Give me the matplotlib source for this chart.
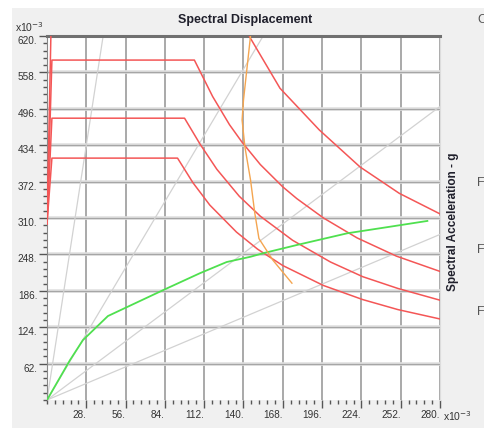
import matplotlib
matplotlib.use("Agg")
import matplotlib.pyplot as plt
from matplotlib.ticker import MultipleLocator, FixedLocator
from matplotlib.patches import Rectangle

plt.rcParams['font.family'] = ['Liberation Sans Narrow', 'Liberation Sans', 'DejaVu Sans']

# data (x10^-3): spectral displacement vs spectral acceleration
# demand spectra (red)
dem1_sd = [0, 3.5, 126, 145, 166, 194, 223, 251, 280]
dem1_sa = [300, 705, 705, 616, 531, 460, 397, 352, 317]
dem2_sd = [0, 3.5, 105, 118, 130, 139, 152, 168, 178, 197, 221, 249, 280]
dem2_sa = [300, 579, 579, 517, 469, 439, 401, 363, 343, 310, 276, 245, 219]
dem3_sd = [0, 3.5, 98, 109, 121, 137, 152, 175, 202, 225, 250, 280]
dem3_sa = [300, 480, 480, 436, 393, 347, 313, 272, 235, 210, 190, 170]
dem4_sd = [0, 3.5, 93, 104, 116, 135, 150, 168, 197, 225, 250, 280]
dem4_sa = [300, 412, 412, 370, 332, 286, 257, 229, 195, 171, 154, 138]

# capacity curve (green)
cap_sd = [0, 16.4, 25.6, 43.4, 82.6, 109, 128, 145, 154, 178, 214, 244, 271]
cap_sa = [0, 68, 102, 143, 187, 216, 235, 244, 250, 264, 284, 295, 305]

# performance points trace (orange)
perf_sd = [145, 140, 139, 141, 145, 148, 151, 161, 174.5]
perf_sa = [620, 511, 477, 431, 375, 319, 275, 238, 199]

# constant period lines (gray), end points
per_sd = [40, 154, 280, 280]
per_sa = [620, 620, 500, 282]

x_ticks = [28, 56, 84, 112, 140, 168, 196, 224, 252, 280]
y_ticks = [62, 124, 186, 248, 310, 372, 434, 496, 558, 620]

fig = plt.figure(figsize=(4.85, 4.30), dpi=100)
fig.patch.set_facecolor('white')
fig.patches.append(Rectangle((12 / 485, 2 / 430), 1, 420 / 430, transform=fig.transFigure,
                             facecolor='#f0f0f0', edgecolor='none', zorder=-10))

ax = fig.add_axes([47 / 485, 30 / 430, 393 / 485, 364 / 430])
ax.set_facecolor('white')

# grid
for xv in x_ticks:
    ax.axvline(xv, color='#929292', lw=1.1, zorder=1)
for yv in y_ticks[:-1]:
    ax.axhline(yv, color='#e0e0e0', lw=2.6, zorder=1)
    ax.axhline(yv, color='#a6a6a6', lw=0.9, zorder=1)

# period lines
for sd, sa in zip(per_sd, per_sa):
    ax.plot([0, sd], [0, sa], color='#d2d2d2', lw=0.9, zorder=2)

for sd, sa in [(dem1_sd, dem1_sa), (dem2_sd, dem2_sa), (dem3_sd, dem3_sa), (dem4_sd, dem4_sa)]:
    ax.plot(sd, sa, color='#f45656', lw=1.1, zorder=3)

ax.plot(cap_sd, cap_sa, color='#4fe04f', lw=1.3, zorder=4)
ax.plot(perf_sd, perf_sa, color='#f4a550', lw=1.0, zorder=4)

ax.set_xlim(0, 280)
ax.set_ylim(0, 620)

ax.xaxis.set_major_locator(FixedLocator(x_ticks))
ax.yaxis.set_major_locator(FixedLocator(y_ticks))
ax.xaxis.set_minor_locator(MultipleLocator(5.6))
ax.yaxis.set_minor_locator(MultipleLocator(12.4))
ax.set_xticklabels([f'{v}.' for v in x_ticks])
ax.set_yticklabels([f'{v}.' for v in y_ticks])
ax.tick_params(axis='both', which='major', direction='out', length=6, width=1,
               color='#555555', labelsize=7.2, labelcolor='#333333', pad=1)
ax.tick_params(axis='both', which='minor', direction='out', length=3, width=1,
               color='#555555')
for lab in ax.get_xticklabels():
    lab.set_horizontalalignment('right')
for lab in ax.get_yticklabels():
    lab.set_verticalalignment('top')

ax.spines['bottom'].set_visible(False)
ax.spines['top'].set_color('#707070')
ax.spines['top'].set_linewidth(2.2)
ax.spines['left'].set_color('#888888')
ax.spines['right'].set_color('#dddddd')

fig.text(245 / 485, 1 - 20 / 430, 'Spectral Displacement', ha='center', va='center',
         fontsize=9, fontweight='bold', color='#20202c')
fig.text(453 / 485, 1 - 222 / 430, 'Spectral Acceleration - g', ha='center', va='center',
         rotation=90, fontsize=8.5, fontweight='bold', color='#20202c')
fig.text(15 / 485, 1 - 27 / 430, r'x10$^{-3}$', ha='left', va='center', fontsize=7.5,
         color='#333333')
fig.text(443 / 485, 1 - 416 / 430, r'x10$^{-3}$', ha='left', va='center', fontsize=7.5,
         color='#333333')

# clipped legend letters at the right edge
for ypx, txt in [(20, 'C'), (183, 'F'), (250, 'F'), (312, 'F')]:
    fig.text(477 / 485, 1 - ypx / 430, txt, ha='left', va='center', fontsize=9,
             color='#555555')

fig.savefig('out.png', dpi=100, facecolor=fig.get_facecolor())
